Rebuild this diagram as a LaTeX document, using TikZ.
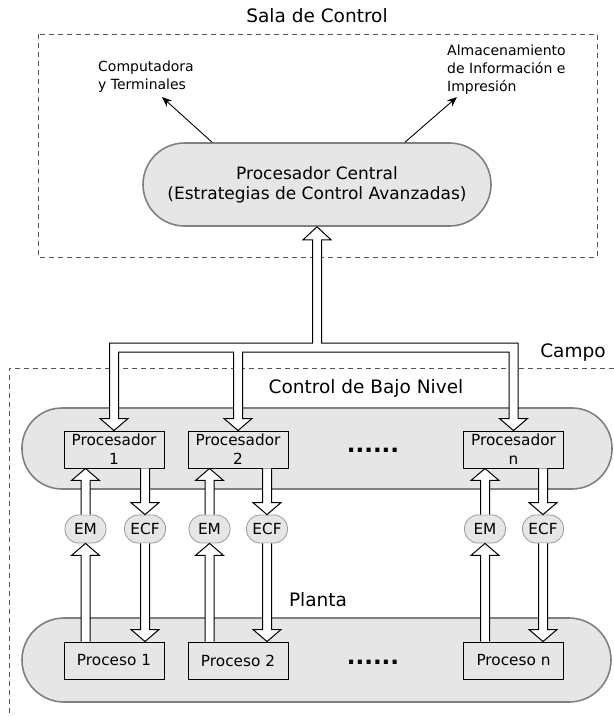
\documentclass[tikz,border=0pt]{standalone}
\usepackage{fontspec}
\setmainfont{DejaVu Sans}
\usetikzlibrary{calc,arrows.meta}

\definecolor{pillgray}{HTML}{E6E6E6}
\definecolor{pillline}{HTML}{808080}
\definecolor{tagline}{HTML}{999999}
\definecolor{dashgray}{HTML}{555555}

\newcommand\headfont{\fontsize{18.5}{22}\selectfont}
\newcommand\cpufont{\fontsize{17}{20}\selectfont}
\newcommand\boxfont{\fontsize{15.3}{19}\selectfont}
\newcommand\notefont{\fontsize{14}{18}\selectfont}
\newcommand\dotfont{\fontsize{23}{23}\selectfont\bfseries}

\tikzset{
  pill/.style={draw=pillline, line width=1.6pt, fill=pillgray, rounded corners=#1, inner sep=0pt},
  pill/.default=40pt,
  unitbox/.style={draw=black, line width=0.95pt, fill=pillgray, minimum width=100pt,
    minimum height=37pt, inner sep=0pt, align=center, font=\boxfont},
  tagnode/.style={draw=tagline, line width=0.8pt, fill=pillgray, rounded corners=13.5pt,
    minimum width=41pt, minimum height=28pt, inner sep=0pt, font=\boxfont},
  fatline/.style={draw=black, line width=1pt, line join=miter},
  thinarrow/.style={-{Stealth[length=10pt,width=8pt]}, line width=0.9pt},
  zone/.style={draw=dashgray, line width=0.9pt, dash pattern=on 5pt off 4pt},
  label/.style={inner sep=0pt}
}

% hollow vertical arrow, tail #1, tip #2 (x taken from the tip)
\newcommand\fatup[2]{%
  \fill[white] let \p1=(#1), \p2=(#2) in
    (\x2-4.5pt,\y1) -- (\x2-4.5pt,\y2-12pt) -- (\x2-14pt,\y2-12pt) -- (\x2,\y2)
    -- (\x2+14pt,\y2-12pt) -- (\x2+4.5pt,\y2-12pt) -- (\x2+4.5pt,\y1) -- cycle;
  \draw[fatline] let \p1=(#1), \p2=(#2) in
    (\x2-4.5pt,\y1) -- (\x2-4.5pt,\y2-12pt) -- (\x2-14pt,\y2-12pt) -- (\x2,\y2)
    -- (\x2+14pt,\y2-12pt) -- (\x2+4.5pt,\y2-12pt) -- (\x2+4.5pt,\y1);}
\newcommand\fatdown[2]{%
  \fill[white] let \p1=(#1), \p2=(#2) in
    (\x2-4.5pt,\y1) -- (\x2-4.5pt,\y2+12pt) -- (\x2-14pt,\y2+12pt) -- (\x2,\y2)
    -- (\x2+14pt,\y2+12pt) -- (\x2+4.5pt,\y2+12pt) -- (\x2+4.5pt,\y1) -- cycle;
  \draw[fatline] let \p1=(#1), \p2=(#2) in
    (\x2-4.5pt,\y1) -- (\x2-4.5pt,\y2+12pt) -- (\x2-14pt,\y2+12pt) -- (\x2,\y2)
    -- (\x2+14pt,\y2+12pt) -- (\x2+4.5pt,\y2+12pt) -- (\x2+4.5pt,\y1);}

\begin{document}
\begin{tikzpicture}[x=1pt,y=-1pt]
\useasboundingbox (0,0) rectangle (614,716);

% zones
\draw[zone] (38,34) rectangle (597,257);
\draw[zone] (614,368) -- (9,368) -- (9,716);
\node[label, font=\headfont] (sala) at (317,16) {Sala de Control};
\node[label, font=\headfont] (campo) at (573,353) {Campo};

% control room
\node[pill=41.5pt, minimum width=348pt, minimum height=83pt, align=center, font=\cpufont]
  (cp) at (317,184.5) {Procesador Central\\(Estrategias de Control Avanzadas)};
\node[label, font=\notefont, align=left, anchor=west] (comp) at (98,77)
  {Computadora\\y Terminales};
\node[label, font=\notefont, align=left, anchor=west] (alm) at (447,69.5)
  {Almacenamiento\\de Información e\\Impresión};
\coordinate (compTip) at (162,97);
\coordinate (almTip) at (457,97);
\draw[thinarrow] ($(cp.north)+(-105,0)$) -- (compTip);
\draw[thinarrow] ($(cp.north)+(88,0)$) -- (almTip);

% low level control
\node[label, font=\headfont] (cbn) at (366,388) {Control de Bajo Nivel};
\node[pill=40pt, minimum width=590pt, minimum height=81pt] (ll) at (317,448.5) {};
\node[unitbox] (p1) at (114,449.5) {Procesador\\1};
\node[unitbox] (p2) at (238,449.5) {Procesador\\2};
\node[unitbox] (pn) at (513.5,449.5) {Procesador\\n};
\node[label, font=\dotfont] (dots1) at (373,450) {......};

% measurement / final control elements
\node[tagnode] (em1) at (85.5,529) {EM};
\node[tagnode] (ecf1) at (145,529) {ECF};
\node[tagnode] (em2) at (209.5,529) {EM};
\node[tagnode] (ecf2) at (267,529) {ECF};
\node[tagnode] (emn) at (485,529) {EM};
\node[tagnode] (ecfn) at (543,529) {ECF};

% plant
\node[label, font=\headfont] (planta) at (318,600) {Planta};
\node[pill=42pt, minimum width=589pt, minimum height=84pt] (pl) at (316.5,660) {};
\node[unitbox] (r1) at (114,660.5) {Proceso 1};
\node[unitbox] (r2) at (238,660.5) {Proceso 2};
\node[unitbox] (rn) at (513.5,660.5) {Proceso n};
\node[label, font=\dotfont] (dots2) at (373,662) {......};

% bus from the central processor to every local processor
\coordinate (busO) at (0,343);
\coordinate (busI) at (0,352);
\coordinate (cL) at ($(cp.south)+(-4.5,0)$);
\coordinate (cR) at ($(cp.south)+(4.5,0)$);
\coordinate (a1L) at ($(p1.north)+(-4.5,0)$);
\coordinate (a1R) at ($(p1.north)+(4.5,0)$);
\coordinate (a2L) at ($(p2.north)+(-4.5,0)$);
\coordinate (a2R) at ($(p2.north)+(4.5,0)$);
\coordinate (anL) at ($(pn.north)+(-4.5,0)$);
\coordinate (anR) at ($(pn.north)+(4.5,0)$);
\filldraw[fatline, fill=white]
  ($(a1L)+(0,-12)$) -- (a1L |- busO) -- (cL |- busO) -- ($(cL)+(0,13)$)
  -- ($(cp.south)+(-14,13)$) -- (cp.south) -- ($(cp.south)+(14,13)$)
  -- ($(cR)+(0,13)$) -- (cR |- busO) -- (anR |- busO) -- ($(anR)+(0,-12)$)
  -- ($(pn.north)+(14,-12)$) -- (pn.north) -- ($(pn.north)+(-14,-12)$)
  -- ($(anL)+(0,-12)$) -- (anL |- busI) -- (a2R |- busI) -- ($(a2R)+(0,-12)$)
  -- ($(p2.north)+(14,-12)$) -- (p2.north) -- ($(p2.north)+(-14,-12)$)
  -- ($(a2L)+(0,-12)$) -- (a2L |- busI) -- (a1R |- busI) -- ($(a1R)+(0,-12)$)
  -- ($(p1.north)+(14,-12)$) -- (p1.north) -- ($(p1.north)+(-14,-12)$) -- cycle;

% signals between processors and field elements
\fatup{em1.north}{em1 |- p1.south}
\fatdown{p1.south}{ecf1.north}
\fatup{em2.north}{em2 |- p2.south}
\fatdown{p2.south}{ecf2.north}
\fatup{emn.north}{emn |- pn.south}
\fatdown{pn.south}{ecfn.north}

% signals between field elements and processes
\fatup{em1 |- r1.north}{em1.south}
\fatdown{ecf1.south}{ecf1 |- r1.north}
\fatup{em2 |- r2.north}{em2.south}
\fatdown{ecf2.south}{ecf2 |- r2.north}
\fatup{emn |- rn.north}{emn.south}
\fatdown{ecfn.south}{ecfn |- rn.north}
\end{tikzpicture}
\end{document}
